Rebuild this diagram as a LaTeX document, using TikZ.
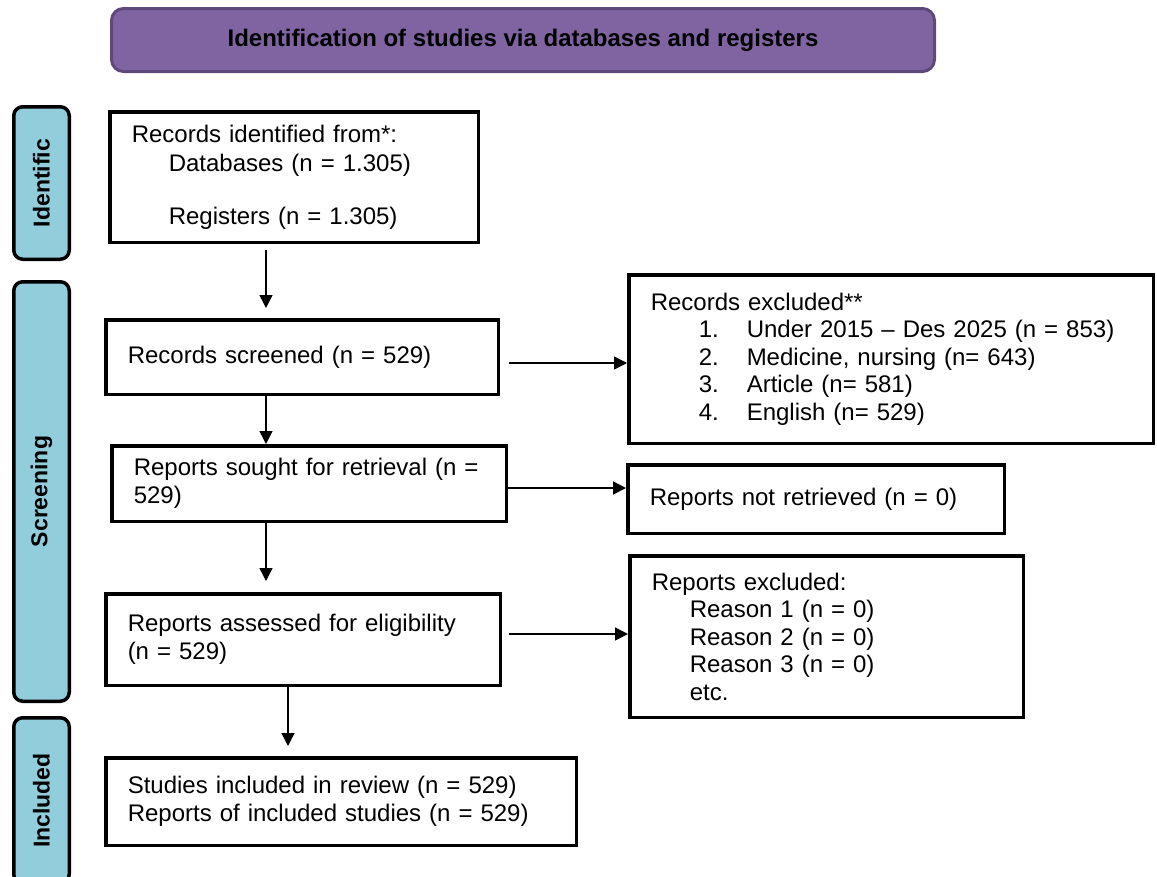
\documentclass[tikz,border=0pt]{standalone}
\usepackage{xcolor}
\usepackage{fontspec}
\setmainfont{Liberation Sans}
\usepackage{tikz}
\usetikzlibrary{calc,arrows.meta}
\definecolor{headerColor}{RGB}{128, 100, 162}
\definecolor{headerBorder}{RGB}{94, 73, 122}
\definecolor{phaseColor}{RGB}{146, 205, 220}

\begin{document}
\begin{tikzpicture}[x=1pt, y=-1pt,
    stagebox/.style={draw=black, line width=3.5pt, fill=white, inner xsep=22pt, inner ysep=0pt,
        align=left, font=\fontsize{24}{27.5}\selectfont},
    phasebar/.style={draw=black, line width=3.5pt, fill=phaseColor, rounded corners=9pt, rotate=90,
        minimum height=55.5pt, inner sep=0pt, font=\fontsize{23}{26}\selectfont\bfseries},
    flowarrow/.style={line width=1.4pt, -{Triangle[length=13pt, width=13pt]}}
]
    % Page frame
    \clip (0,0) rectangle (1157,876);

    % Title bar
    \node[draw=headerBorder, line width=3pt, fill=headerColor, rounded corners=12pt,
        minimum width=823pt, minimum height=63pt, font=\fontsize{24}{28}\selectfont\bfseries]
        (header) at (523,40) {Identification of studies via databases and registers};

    % Phase bars on the left
    \node[phasebar, minimum width=152.5pt] (identbar) at (41.5,183) {Identific};
    \node[phasebar, minimum width=419.5pt] (screenbar) at (41.5,491.5) {Screening};
    \node[phasebar, minimum width=165.5pt] (inclbar) at (41.5,800.5) {Included};

    % Main column
    \node[stagebox, text width=324.5pt, minimum height=130.5pt] (identified) at (294,177) {
        Records identified from*:\\[1.5pt]
        \hspace*{37pt}Databases (n = 1.305)\\[25.5pt]
        \hspace*{37pt}Registers (n = 1.305)};
    \node[stagebox, text width=348.5pt, minimum height=74.5pt] (screened) at (302,357) {
        Records screened (n = 529)};
    \node[stagebox, text width=350.5pt, minimum height=75.5pt] (sought) at (309,483.5) {
        Reports sought for retrieval (n =\\529)};
    \node[stagebox, text width=350.5pt, minimum height=91.5pt] (assessed) at (303,639.5) {
        Reports assessed for eligibility\\(n = 529)};
    \node[stagebox, text width=426.5pt, minimum height=87.5pt] (included) at (341,801.5) {
        Studies included in review (n = 529)\\
        Reports of included studies (n = 529)};

    % Side column
    \node[stagebox, text width=480.5pt, minimum height=168.5pt] (recexcl) at (891,359) {
        Records excluded**\\
        \hspace*{48pt}\makebox[48pt][l]{1.}Under 2015 \textendash{} Des 2025 (n = 853)\\
        \hspace*{48pt}\makebox[48pt][l]{2.}Medicine, nursing (n= 643)\\
        \hspace*{48pt}\makebox[48pt][l]{3.}Article (n= 581)\\
        \hspace*{48pt}\makebox[48pt][l]{4.}English (n= 529)};
    \node[stagebox, text width=332.5pt, minimum height=68.5pt] (notretr) at (816,499) {
        Reports not retrieved (n = 0)};
    \node[stagebox, text width=349.5pt, minimum height=161.5pt] (repexcl) at (826.5,636.5) {
        Reports excluded:\\
        \hspace*{38pt}Reason 1 (n = 0)\\
        \hspace*{38pt}Reason 2 (n = 0)\\
        \hspace*{38pt}Reason 3 (n = 0)\\
        \hspace*{38pt}etc.};

    % Guide lines for the connectors
    \coordinate (spineA) at (266,0);
    \coordinate (spineB) at (288,0);
    \coordinate (rowA) at (0,363);
    \coordinate (rowB) at (0,488);
    \coordinate (rowC) at (0,634);

    % Downward arrows
    \draw[flowarrow, shorten <=6pt, shorten >=10pt] (identified.south -| spineA) -- (screened.north -| spineA);
    \draw[flowarrow] (screened.south -| spineA) -- (sought.north -| spineA);
    \draw[flowarrow, shorten >=11pt] (sought.south -| spineA) -- (assessed.north -| spineA);
    \draw[flowarrow, shorten >=10pt] (assessed.south -| spineB) -- (included.north -| spineB);

    % Sideways arrows
    \draw[flowarrow, shorten <=9pt] (screened.east |- rowA) -- (recexcl.west |- rowA);
    \draw[flowarrow] (sought.east |- rowB) -- (notretr.west |- rowB);
    \draw[flowarrow, shorten <=7pt] (assessed.east |- rowC) -- (repexcl.west |- rowC);
\end{tikzpicture}
\end{document}
